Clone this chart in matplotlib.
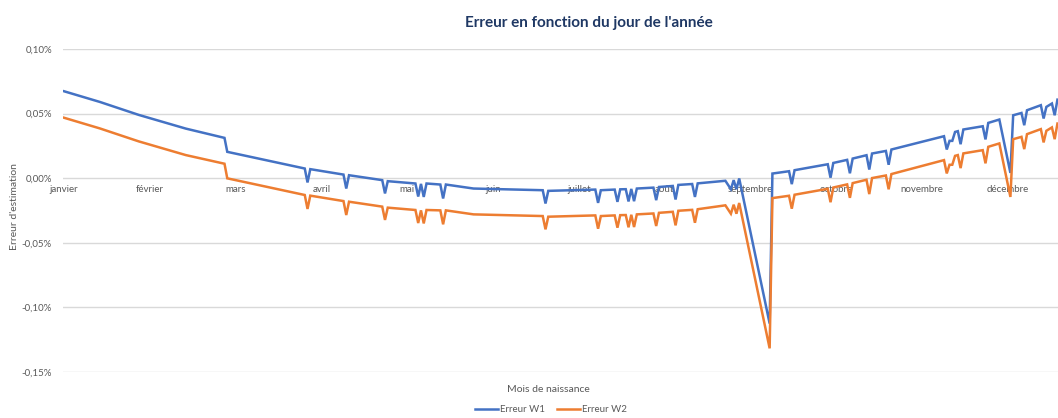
import matplotlib
matplotlib.use("Agg")
import matplotlib.pyplot as plt
from matplotlib.lines import Line2D
from matplotlib.ticker import FuncFormatter
import numpy as np

plt.rcParams["font.family"] = ["Lato", "DejaVu Sans"]

# jour de l'année (0 = 1er janvier) où la courbe change de pente
jours = [0, 13, 27, 44, 58, 59, 87, 88, 89, 101, 102, 103, 115, 116, 117,
         127, 128, 129, 130, 131, 136, 137, 138, 148, 173, 174, 175, 192,
         193, 194, 199, 200, 201, 203, 204, 205, 206, 207, 213, 214, 215,
         220, 221, 222, 227, 228, 229, 239, 241, 242, 243, 244, 255, 256,
         262, 263, 264, 276, 277, 278, 283, 284, 285, 290, 291, 292, 297,
         298, 299, 318, 319, 320, 321, 322, 323, 324, 325, 332, 333, 334,
         338, 342, 343, 346, 347, 348, 353, 354, 355, 357, 358, 359]

# erreur d'estimation, en %
erreur_w1 = [0.0673, 0.0590, 0.0490, 0.0384, 0.0312, 0.0204, 0.0075, -0.0033,
             0.0070, 0.0028, -0.0080, 0.0023, -0.0015, -0.0118, -0.0023,
             -0.0041, -0.0142, -0.0044, -0.0145, -0.0041, -0.0049, -0.0157,
             -0.0049, -0.0080, -0.0093, -0.0196, -0.0098, -0.0088, -0.0191,
             -0.0093, -0.0088, -0.0183, -0.0086, -0.0085, -0.0180, -0.0083,
             -0.0178, -0.0080, -0.0073, -0.0170, -0.0068, -0.0060, -0.0165,
             -0.0052, -0.0045, -0.0145, -0.0040, -0.0020, -0.0085, -0.0015,
             -0.0085, -0.0002, -0.1125, 0.0036, 0.0054, -0.0046, 0.0062,
             0.0108, 0.0004, 0.0118, 0.0142, 0.0038, 0.0152, 0.0178, 0.0067,
             0.0191, 0.0211, 0.0104, 0.0222, 0.0325, 0.0222, 0.0289, 0.0289,
             0.0358, 0.0364, 0.0263, 0.0377, 0.0402, 0.0300, 0.0428, 0.0454,
             0.0041, 0.0487, 0.0505, 0.0410, 0.0526, 0.0565, 0.0462, 0.0552,
             0.0578, 0.0487, 0.0608]

erreur_w2 = [0.0468, 0.0385, 0.0285, 0.0179, 0.0112, -0.0001, -0.0130, -0.0238,
             -0.0135, -0.0177, -0.0285, -0.0182, -0.0220, -0.0323, -0.0228,
             -0.0246, -0.0347, -0.0249, -0.0350, -0.0246, -0.0249, -0.0357,
             -0.0249, -0.0280, -0.0293, -0.0396, -0.0298, -0.0288, -0.0391,
             -0.0293, -0.0288, -0.0383, -0.0286, -0.0285, -0.0380, -0.0283,
             -0.0378, -0.0280, -0.0273, -0.0370, -0.0268, -0.0260, -0.0365,
             -0.0252, -0.0245, -0.0345, -0.0240, -0.0210, -0.0275, -0.0205,
             -0.0275, -0.0192, -0.1317, -0.0154, -0.0136, -0.0236, -0.0128,
             -0.0082, -0.0186, -0.0072, -0.0048, -0.0152, -0.0038, -0.0012,
             -0.0123, 0.0001, 0.0021, -0.0086, 0.0032, 0.0140, 0.0037, 0.0104,
             0.0104, 0.0173, 0.0179, 0.0078, 0.0192, 0.0217, 0.0115, 0.0243,
             0.0269, -0.0145, 0.0302, 0.0320, 0.0225, 0.0341, 0.0380, 0.0277,
             0.0367, 0.0393, 0.0302, 0.0423]

mois = ["janvier", "février", "mars", "avril", "mai", "juin", "juillet",
        "août", "septembre", "octobre", "novembre", "décembre"]

bleu = "#4472C4"
orange = "#ED7D31"
gris = "#595959"

fig = plt.figure(figsize=(10.58, 4.18), dpi=100)
ax = fig.add_axes([63 / 1058, 46 / 418, 995 / 1058, 323 / 418])

ax.plot(jours, erreur_w1, color=bleu, lw=1.8, solid_joinstyle="miter")
ax.plot(jours, erreur_w2, color=orange, lw=1.8, solid_joinstyle="miter")

ax.set_ylim(-0.15, 0.10)
ax.set_xlim(-0.36, 359.2)
ax.set_yticks(np.arange(-0.15, 0.101, 0.05))
ax.yaxis.set_major_formatter(FuncFormatter(lambda v, p: f"{v:.2f}%".replace(".", ",").replace("-0,00", "0,00")))
ax.grid(axis="y", color="#d9d9d9", lw=1)
ax.set_axisbelow(True)

# étiquettes de mois toutes les 31 catégories, sous l'axe à 0
ax.set_xticks(np.arange(0, 365, 31))
ax.set_xticklabels(mois)
ax.spines["bottom"].set_position(("data", 0))
for s in ax.spines.values():
    s.set_visible(False)
ax.tick_params(axis="x", length=0, pad=5, labelsize=7, labelcolor=gris)
ax.tick_params(axis="y", length=0, pad=8, labelsize=7, labelcolor=gris)

fig.text(589 / 1058, 1 - 23 / 418, "Erreur en fonction du jour de l'année",
         ha="center", va="center", fontsize=11, fontweight="bold", color="#1F3864")
fig.text(548 / 1058, 1 - 390 / 418, "Mois de naissance",
         ha="center", va="center", fontsize=7.5, color=gris)
fig.text(15 / 1058, 1 - 207 / 418, "Erreur d'estimation", rotation=90,
         ha="center", va="center", fontsize=7.5, color=gris)

poignees = [Line2D([], [], color=bleu, lw=1.8), Line2D([], [], color=orange, lw=1.8)]
fig.legend(poignees, ["Erreur W1", "Erreur W2"], loc="center", ncol=2,
           bbox_to_anchor=(551 / 1058, 1 - 410 / 418), frameon=False,
           fontsize=7, labelcolor=gris, handlelength=2.4, handletextpad=0.2,
           columnspacing=1.2)

fig.savefig("out.png", dpi=100)
